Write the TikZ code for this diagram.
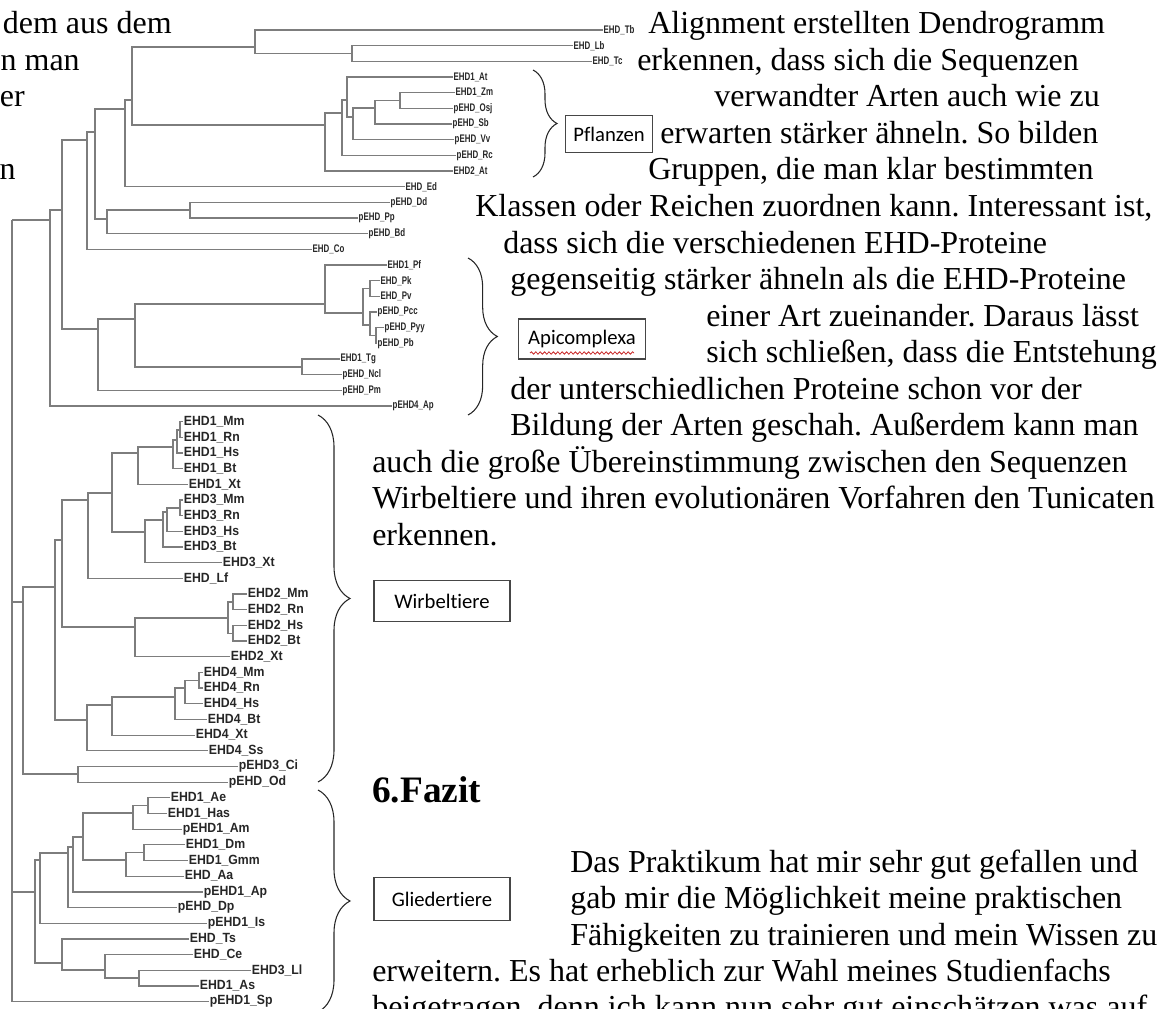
\documentclass[tikz,border=0pt]{standalone}
\usepackage{fontspec}
\setmainfont{Liberation Serif}
\newfontfamily\treefont{Liberation Sans}
\newfontfamily\calfont[Ligatures=NoCommon]{Carlito}
\usetikzlibrary{decorations.pathreplacing,decorations.pathmorphing}
\frenchspacing

\definecolor{branchgray}{RGB}{125,125,125}
\definecolor{boxgray}{RGB}{70,70,70}
\definecolor{spellred}{RGB}{200,40,40}

\tikzset{
  branch/.style={draw=branchgray, line width=1pt},
  leafsm/.style={anchor=west, inner sep=0.5pt, font=\treefont\bfseries\fontsize{8.25}{9}\selectfont, xscale=0.72, text=black!85},
  leafbg/.style={anchor=west, inner sep=0.5pt, font=\treefont\bfseries\fontsize{10}{11}\selectfont, xscale=0.92, text=black!85},
  bodyline/.style={inner sep=0pt, font=\fontsize{24}{27}\selectfont},
  groupbox/.style={draw=boxgray, line width=0.9pt, fill=white, inner sep=0pt, font=\calfont\fontsize{15.5}{18}\selectfont},
  groupbrace/.style={draw=black!85, line width=0.8pt, decorate},
}

\begin{document}
\begin{tikzpicture}[x=0.75pt,y=0.75pt,yscale=-1,xscale=1]
\useasboundingbox (0,0) rectangle (1174,1009);
\clip (0,0) rectangle (1174,1009);

% Leaves: upper part of the tree
\node[leafsm] (Tb) at (603,30.0) {EHD\_Tb};
\node[leafsm] (Lb) at (573,45.7) {EHD\_Lb};
\node[leafsm] (Tc) at (592,61.3) {EHD\_Tc};
\node[leafsm] (At1) at (453,77.0) {EHD1\_At};
\node[leafsm] (Zm) at (455,92.7) {EHD1\_Zm};
\node[leafsm] (Osj) at (453,108.4) {pEHD\_Osj};
\node[leafsm] (Sb) at (452,124.0) {pEHD\_Sb};
\node[leafsm] (Vv) at (454,139.7) {pEHD\_Vv};
\node[leafsm] (Rc) at (456,155.4) {pEHD\_Rc};
\node[leafsm] (At2) at (453,171.0) {EHD2\_At};
\node[leafsm] (Ed) at (405,186.7) {EHD\_Ed};
\node[leafsm] (Dd) at (390,202.4) {pEHD\_Dd};
\node[leafsm] (Pp) at (358,218.0) {pEHD\_Pp};
\node[leafsm] (Bd) at (368,233.7) {pEHD\_Bd};
\node[leafsm] (Co) at (312,249.4) {EHD\_Co};
\node[leafsm] (Pf) at (387,265.1) {EHD1\_Pf};
\node[leafsm] (Pk) at (380,280.7) {EHD\_Pk};
\node[leafsm] (Pv) at (380,296.4) {EHD\_Pv};
\node[leafsm] (Pcc) at (377,312.1) {pEHD\_Pcc};
\node[leafsm] (Pyy) at (384,327.7) {pEHD\_Pyy};
\node[leafsm] (Pb) at (377,343.4) {pEHD\_Pb};
\node[leafsm] (Tg) at (340,359.1) {EHD1\_Tg};
\node[leafsm] (Ncl) at (342,374.7) {pEHD\_Ncl};
\node[leafsm] (Pm) at (342,390.4) {pEHD\_Pm};
\node[leafsm] (Ap4) at (392,406.1) {pEHD4\_Ap};

% Leaves: lower part of the tree
\node[leafbg] (Mm1) at (183,421.8) {EHD1\_Mm};
\node[leafbg] (Rn1) at (183,437.4) {EHD1\_Rn};
\node[leafbg] (Hs1) at (183,453.1) {EHD1\_Hs};
\node[leafbg] (Bt1) at (183,468.8) {EHD1\_Bt};
\node[leafbg] (Xt1) at (188,484.4) {EHD1\_Xt};
\node[leafbg] (Mm3) at (183,500.1) {EHD3\_Mm};
\node[leafbg] (Rn3) at (183,515.8) {EHD3\_Rn};
\node[leafbg] (Hs3) at (183,531.4) {EHD3\_Hs};
\node[leafbg] (Bt3) at (183,547.1) {EHD3\_Bt};
\node[leafbg] (Xt3) at (222,562.8) {EHD3\_Xt};
\node[leafbg] (Lf) at (183,578.5) {EHD\_Lf};
\node[leafbg] (Mm2) at (247,594.1) {EHD2\_Mm};
\node[leafbg] (Rn2) at (247,609.8) {EHD2\_Rn};
\node[leafbg] (Hs2) at (247,625.5) {EHD2\_Hs};
\node[leafbg] (Bt2) at (247,641.1) {EHD2\_Bt};
\node[leafbg] (Xt2) at (230,656.8) {EHD2\_Xt};
\node[leafbg] (Mm4) at (203,672.5) {EHD4\_Mm};
\node[leafbg] (Rn4) at (203,688.1) {EHD4\_Rn};
\node[leafbg] (Hs4) at (203,703.8) {EHD4\_Hs};
\node[leafbg] (Bt4) at (207,719.5) {EHD4\_Bt};
\node[leafbg] (Xt4) at (195,735.2) {EHD4\_Xt};
\node[leafbg] (Ss4) at (208,750.8) {EHD4\_Ss};
\node[leafbg] (Ci3) at (238,766.5) {pEHD3\_Ci};
\node[leafbg] (Od) at (228,782.2) {pEHD\_Od};
\node[leafbg] (Ae) at (170,797.8) {EHD1\_Ae};
\node[leafbg] (Has) at (167,813.5) {EHD1\_Has};
\node[leafbg] (Am) at (182,829.2) {pEHD1\_Am};
\node[leafbg] (Dm) at (185,844.8) {EHD1\_Dm};
\node[leafbg] (Gmm) at (188,860.5) {EHD1\_Gmm};
\node[leafbg] (Aa) at (184,876.2) {EHD\_Aa};
\node[leafbg] (Ap1) at (203,891.9) {pEHD1\_Ap};
\node[leafbg] (Dp) at (177,907.5) {pEHD\_Dp};
\node[leafbg] (Is) at (207,923.2) {pEHD1\_Is};
\node[leafbg] (Ts) at (189,938.9) {EHD\_Ts};
\node[leafbg] (Ce) at (193,954.5) {EHD\_Ce};
\node[leafbg] (Ll3) at (251,970.2) {EHD3\_Ll};
\node[leafbg] (As) at (199,985.9) {EHD1\_As};
\node[leafbg] (Sp) at (209,1001.5) {pEHD1\_Sp};

% Inner nodes
\coordinate (kR) at (12,220);
\coordinate (kA) at (50,220);
\coordinate (kB) at (62,210);
\coordinate (kC) at (87,140);
\coordinate (kD) at (95,132);
\coordinate (kE) at (125,109);
\coordinate (kF) at (132,100);
\coordinate (kG) at (255,47);
\coordinate (kLT) at (352,53.5);
\coordinate (kP) at (325,125);
\coordinate (kP1) at (342,113);
\coordinate (kP2) at (347,100);
\coordinate (kP3) at (353,117);
\coordinate (kP4) at (375,108);
\coordinate (kZO) at (400,100.5);
\coordinate (kDPB) at (107,219);
\coordinate (kDP) at (190,210);
\coordinate (kAP) at (98,329);
\coordinate (kAP1) at (135,319);
\coordinate (kPl) at (325,304);
\coordinate (kPl2) at (363,313);
\coordinate (kPkv) at (370,288.5);
\coordinate (kPPP) at (370,325);
\coordinate (kPyb) at (376,335.5);
\coordinate (kTN) at (302,367);
\coordinate (kV) at (23,602);
\coordinate (kW) at (55,587);
\coordinate (kW1) at (62,540);
\coordinate (kW13) at (88,500);
\coordinate (kW13a) at (112,493);
\coordinate (kE1) at (138,453);
\coordinate (kE1a) at (173,447);
\coordinate (kE1b) at (177,440);
\coordinate (kE1c) at (180,430);
\coordinate (kE3) at (145,532);
\coordinate (kE3a) at (163,520);
\coordinate (kE3b) at (167,512);
\coordinate (kE3c) at (180,508);
\coordinate (kE2) at (135,627);
\coordinate (kE2a) at (228,618);
\coordinate (kE2b) at (233,602);
\coordinate (kE2c) at (233,633.3);
\coordinate (kW4) at (87,720);
\coordinate (kW4a) at (112,705);
\coordinate (kE4a) at (175,697);
\coordinate (kE4b) at (185,688);
\coordinate (kE4c) at (199,680.3);
\coordinate (kCO) at (78,774);
\coordinate (kGl) at (35,892);
\coordinate (kG1) at (40,860);
\coordinate (kG1a) at (68,853);
\coordinate (kG1b) at (73,847);
\coordinate (kG1c) at (83,837);
\coordinate (kG1d) at (133,813);
\coordinate (kG1f) at (148,805.6);
\coordinate (kG1e) at (126,860);
\coordinate (kG1g) at (144,852.6);
\coordinate (kG2) at (62,963);
\coordinate (kG2a) at (105,970);
\coordinate (kG2b) at (139,978);

% Branches
\draw[branch] (kR) |- (kA) (kR) |- (kV) (kR) |- (kGl) (kR) |- (Sp.west);
\draw[branch] (kA) |- (kB) (kA) |- (Ap4.west);
\draw[branch] (kB) |- (kC) (kB) |- (kAP);
\draw[branch] (kC) |- (kD) (kC) |- (Co.west);
\draw[branch] (kD) |- (kE) (kD) |- (kDPB);
\draw[branch] (kE) |- (kF) (kE) |- (Ed.west);
\draw[branch] (kF) |- (kG) (kF) |- (kP);
\draw[branch] (kG) |- (Tb.west) (kG) |- (kLT);
\draw[branch] (kLT) |- (Lb.west) (kLT) |- (Tc.west);
\draw[branch] (kP) |- (kP1) (kP) |- (At2.west);
\draw[branch] (kP1) |- (kP2) (kP1) |- (Rc.west);
\draw[branch] (kP2) |- (At1.west) (kP2) |- (kP3);
\draw[branch] (kP3) |- (kP4) (kP3) |- (Vv.west);
\draw[branch] (kP4) |- (kZO) (kP4) |- (Sb.west);
\draw[branch] (kZO) |- (Zm.west) (kZO) |- (Osj.west);
\draw[branch] (kDPB) |- (kDP) (kDPB) |- (Bd.west);
\draw[branch] (kDP) |- (Dd.west) (kDP) |- (Pp.west);
\draw[branch] (kAP) |- (kAP1) (kAP) |- (Pm.west);
\draw[branch] (kAP1) |- (kPl) (kAP1) |- (kTN);
\draw[branch] (kPl) |- (Pf.west) (kPl) |- (kPl2);
\draw[branch] (kPl2) |- (kPkv) (kPl2) |- (kPPP);
\draw[branch] (kPkv) |- (Pk.west) (kPkv) |- (Pv.west);
\draw[branch] (kPPP) |- (Pcc.west) (kPPP) |- (kPyb);
\draw[branch] (kPyb) |- (Pyy.west) (kPyb) |- (Pb.west);
\draw[branch] (kTN) |- (Tg.west) (kTN) |- (Ncl.west);
\draw[branch] (kV) |- (kW) (kV) |- (kCO);
\draw[branch] (kW) |- (kW1) (kW) |- (kW4);
\draw[branch] (kW1) |- (kW13) (kW1) |- (kE2);
\draw[branch] (kW13) |- (kW13a) (kW13) |- (Lf.west);
\draw[branch] (kW13a) |- (kE1) (kW13a) |- (kE3);
\draw[branch] (kE1) |- (kE1a) (kE1) |- (Xt1.west);
\draw[branch] (kE1a) |- (kE1b) (kE1a) |- (Bt1.west);
\draw[branch] (kE1b) |- (kE1c) (kE1b) |- (Hs1.west);
\draw[branch] (kE1c) |- (Mm1.west) (kE1c) |- (Rn1.west);
\draw[branch] (kE3) |- (kE3a) (kE3) |- (Xt3.west);
\draw[branch] (kE3a) |- (kE3b) (kE3a) |- (Bt3.west);
\draw[branch] (kE3b) |- (kE3c) (kE3b) |- (Hs3.west);
\draw[branch] (kE3c) |- (Mm3.west) (kE3c) |- (Rn3.west);
\draw[branch] (kE2) |- (kE2a) (kE2) |- (Xt2.west);
\draw[branch] (kE2a) |- (kE2b) (kE2a) |- (kE2c);
\draw[branch] (kE2b) |- (Mm2.west) (kE2b) |- (Rn2.west);
\draw[branch] (kE2c) |- (Hs2.west) (kE2c) |- (Bt2.west);
\draw[branch] (kW4) |- (kW4a) (kW4) |- (Ss4.west);
\draw[branch] (kW4a) |- (kE4a) (kW4a) |- (Xt4.west);
\draw[branch] (kE4a) |- (kE4b) (kE4a) |- (Bt4.west);
\draw[branch] (kE4b) |- (kE4c) (kE4b) |- (Hs4.west);
\draw[branch] (kE4c) |- (Mm4.west) (kE4c) |- (Rn4.west);
\draw[branch] (kCO) |- (Ci3.west) (kCO) |- (Od.west);
\draw[branch] (kGl) |- (kG1) (kGl) |- (kG2);
\draw[branch] (kG1) |- (kG1a) (kG1) |- (Is.west);
\draw[branch] (kG1a) |- (kG1b) (kG1a) |- (Dp.west);
\draw[branch] (kG1b) |- (kG1c) (kG1b) |- (Ap1.west);
\draw[branch] (kG1c) |- (kG1d) (kG1c) |- (kG1e);
\draw[branch] (kG1d) |- (kG1f) (kG1d) |- (Am.west);
\draw[branch] (kG1f) |- (Ae.west) (kG1f) |- (Has.west);
\draw[branch] (kG1e) |- (kG1g) (kG1e) |- (Aa.west);
\draw[branch] (kG1g) |- (Dm.west) (kG1g) |- (Gmm.west);
\draw[branch] (kG2) |- (Ts.west) (kG2) |- (kG2a);
\draw[branch] (kG2a) |- (Ce.west) (kG2a) |- (kG2b);
\draw[branch] (kG2b) |- (Ll3.west) (kG2b) |- (As.west);

% Braces and group boxes
\draw[groupbrace, decoration={brace,amplitude=18pt}] (533,70) -- (533,177);
\draw[groupbrace, decoration={brace,amplitude=22pt}] (468,258) -- (468,415);
\draw[groupbrace, decoration={brace,amplitude=24pt}] (318,415) -- (318,782);
\draw[groupbrace, decoration={brace,amplitude=24pt}] (318,790) -- (318,1012);
\node[groupbox, minimum width=65pt, minimum height=28pt] (pflanzen) at (609,134) {Pflanzen};
\node[groupbox, minimum width=95pt, minimum height=30pt] (apicomplexa) at (582,339) {Apicomplexa};
\draw[spellred, line width=0.6pt, decorate, decoration={snake,amplitude=0.9pt,segment length=3.3pt}] (530,353) -- (634,353);
\node[groupbox, minimum width=102pt, minimum height=31pt] (wirbeltiere) at (442,601) {Wirbeltiere};
\node[groupbox, minimum width=102pt, minimum height=32pt] (gliedertiere) at (442,899) {Gliedertiere};

% Text lines on the left edge
\node[bodyline, anchor=base east] (lp0) at (172,34) {dem aus dem};
\node[bodyline, anchor=base east] (lp1) at (80,70.5) {n man};
\node[bodyline, anchor=base east] (lp2) at (25,107) {er};
\node[bodyline, anchor=base east] (lp4) at (16,180) {n};

% Text lines on the right
\node[bodyline, anchor=base west] (l0) at (648,34) {Alignment erstellten Dendrogramm};
\node[bodyline, anchor=base west] (l1) at (637,70.5) {erkennen, dass sich die Sequenzen};
\node[bodyline, anchor=base west] (l2) at (714,107) {verwandter Arten auch wie zu};
\node[bodyline, anchor=base west] (l3) at (660,143.5) {erwarten stärker ähneln. So bilden};
\node[bodyline, anchor=base west] (l4) at (648,180) {Gruppen, die man klar bestimmten};
\node[bodyline, anchor=base west] (l5) at (475,216.5) {Klassen oder Reichen zuordnen kann. Interessant ist,};
\node[bodyline, anchor=base west] (l6) at (503,253) {dass sich die verschiedenen EHD-Proteine};
\node[bodyline, anchor=base west] (l7) at (510,289.5) {gegenseitig stärker ähneln als die EHD-Proteine};
\node[bodyline, anchor=base west] (l8) at (706,326) {einer Art zueinander. Daraus lässt};
\node[bodyline, anchor=base west] (l9) at (706,362.5) {sich schließen, dass die Entstehung};
\node[bodyline, anchor=base west] (l10) at (510,399) {der unterschiedlichen Proteine schon vor der};
\node[bodyline, anchor=base west] (l11) at (510,435.5) {Bildung der Arten geschah. Außerdem kann man};
\node[bodyline, anchor=base west] (l12) at (372,472) {auch die große Übereinstimmung zwischen den Sequenzen};
\node[bodyline, anchor=base west] (l13) at (372,508.5) {Wirbeltiere und ihren evolutionären Vorfahren den Tunicaten};
\node[bodyline, anchor=base west] (l14) at (372,545) {erkennen.};

% Fazit
\node[inner sep=0pt, anchor=base west, font=\bfseries\fontsize{28}{32}\selectfont] (fazit) at (372,802) {6.Fazit};
\node[bodyline, anchor=base west] (f0) at (570,872) {Das Praktikum hat mir sehr gut gefallen und};
\node[bodyline, anchor=base west] (f1) at (570,908.5) {gab mir die Möglichkeit meine praktischen};
\node[bodyline, anchor=base west] (f2) at (570,945) {Fähigkeiten zu trainieren und mein Wissen zu};
\node[bodyline, anchor=base west] (f3) at (372,981.5) {erweitern. Es hat erheblich zur Wahl meines Studienfachs};
\node[bodyline, anchor=base west] (f4) at (372,1017) {beigetragen, denn ich kann nun sehr gut einschätzen was auf};

\end{tikzpicture}
\end{document}
